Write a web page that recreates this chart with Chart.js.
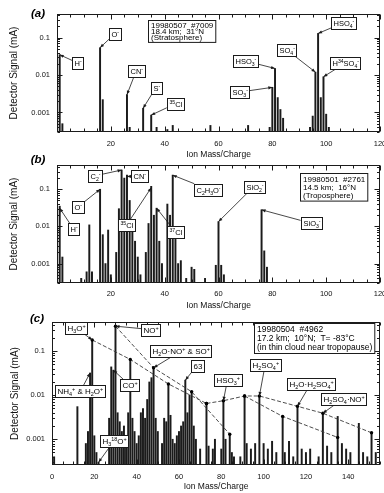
<!DOCTYPE html>
<html>
<head>
<meta charset="utf-8">
<script src="https://cdn.jsdelivr.net/npm/chart.js@4.4.1/dist/chart.umd.min.js"></script>
<style>
  body { margin: 0; background: #fff; }
  #wrap { position: relative; width: 384px; height: 493px; }
  #wrap canvas { position: absolute; left: 0; top: 0; }
</style>
</head>
<body>
<div id="wrap">
  <canvas id="chartA" width="384" height="493"></canvas>
  <canvas id="chartB" width="384" height="493"></canvas>
  <canvas id="chartC" width="384" height="493"></canvas>
</div>
<script>
// ---- data (mass/charge, detector signal in mA) ----

// (a) 19980507 #7009, stratosphere
const massA = [1, 2, 16, 17, 26, 27, 32, 35, 37, 41,
               43, 57, 71, 79, 80, 81, 82, 83, 84, 94,
               95, 96, 97, 98, 99, 100, 101];
const signalA = [0.035, 0.0005, 0.054, 0.0022, 0.003, 0.0004, 0.0013, 0.00085, 0.0004, 0.00035,
                 0.00045, 0.00045, 0.00045, 0.0004, 0.0047, 0.015, 0.0025, 0.0012, 0.0007, 0.0004,
                 0.0008, 0.012, 0.13, 0.0025, 0.009, 0.0009, 0.0004];

// (b) 19980501 #2761, troposphere
const massB = [1, 2, 9, 11, 12, 13, 16, 17, 18, 19,
               20, 22, 23, 24, 25, 26, 27, 28, 29, 30,
               31, 33, 34, 35, 36, 37, 38, 39, 41, 42,
               43, 44, 45, 46, 48, 50, 51, 55, 59, 60,
               61, 62, 76, 77, 78];
const signalB = [0.035, 0.0015, 0.0004, 0.0006, 0.011, 0.0006, 0.1, 0.006, 0.001, 0.008,
                 0.0005, 0.002, 0.03, 0.33, 0.2, 0.24, 0.05, 0.015, 0.004, 0.0015,
                 0.0005, 0.002, 0.012, 0.12, 0.02, 0.031, 0.004, 0.001, 0.04, 0.02,
                 0.24, 0.005, 0.001, 0.0012, 0.0004, 0.0008, 0.0007, 0.0004, 0.0009, 0.0135,
                 0.0009, 0.0005, 0.028, 0.0022, 0.0008];

// (c) 19980504 #4962, thin cloud near tropopause
const massC = [1, 12, 16, 17, 18, 19, 20, 21, 22, 27,
               28, 29, 30, 31, 32, 33, 34, 35, 36, 37,
               38, 39, 40, 41, 42, 43, 44, 45, 46, 47,
               48, 49, 50, 52, 53, 54, 55, 56, 57, 58,
               59, 60, 61, 62, 63, 64, 65, 66, 67, 68,
               70, 73, 74, 76, 77, 80, 81, 82, 84, 85,
               86, 89, 91, 92, 94, 96, 98, 100, 102, 104,
               106, 109, 110, 112, 114, 116, 118, 120, 122, 126,
               128, 130, 132, 135, 137, 139, 141, 145, 147, 149,
               151, 153];
const signalC = [0.0004, 0.0055, 0.0008, 0.0015, 0.032, 0.18, 0.0012, 0.0005, 0.0003, 0.003,
                 0.044, 0.037, 0.37, 0.004, 0.0025, 0.0015, 0.002, 0.0012, 0.004, 0.065,
                 0.003, 0.0015, 0.0008, 0.0012, 0.004, 0.005, 0.003, 0.008, 0.02, 0.025,
                 0.042, 0.003, 0.0015, 0.0008, 0.003, 0.0025, 0.018, 0.0035, 0.001, 0.0008,
                 0.0012, 0.0015, 0.002, 0.0025, 0.022, 0.004, 0.01, 0.012, 0.002, 0.001,
                 0.0006, 0.0065, 0.0007, 0.0006, 0.001, 0.0006, 0.0075, 0.001, 0.0013, 0.0005,
                 0.0004, 0.0004, 0.0096, 0.0008, 0.0006, 0.0008, 0.0096, 0.0008, 0.0006, 0.0009,
                 0.0005, 0.0033, 0.0005, 0.0009, 0.0004, 0.0056, 0.0006, 0.0005, 0.0006, 0.0004,
                 0.0039, 0.0007, 0.0005, 0.0033, 0.0008, 0.0006, 0.0005, 0.0023, 0.0005, 0.0004,
                 0.0014, 0.0005];

// cluster series joined by dashed lines in (c)
const h3oMass = [19, 37, 55, 73];
const h3oSignal = [0.18, 0.065, 0.018, 0.0065];
const noMass = [30, 48, 66, 84];
const noSignal = [0.37, 0.042, 0.012, 0.0013];
const upperMass = [73, 81, 91, 98, 116, 128, 151];
const upperSignal = [0.0065, 0.0075, 0.0096, 0.0096, 0.0056, 0.0039, 0.0014];
const lowerMass = [91, 109, 135];
const lowerSignal = [0.0096, 0.0033, 0.0011];

// tick labels
const ticksAB = [20, 40, 60, 80, 100, 120];
const ticksC = [0, 20, 40, 60, 80, 100, 120, 140];
const decades = [0.001, 0.01, 0.1];

// ---- labels: text, box centre (mass, signal), arrow tip (mass, signal) ----
const notesA = [
  { t: 'H^-', bx: 7.7, by: 0.021, tx: 1, ty: 0.035 },
  { t: 'O^-', bx: 21.6, by: 0.13, tx: 16, ty: 0.054 },
  { t: 'CN^-', bx: 29.4, by: 0.0128, tx: 26, ty: 0.003 },
  { t: 'S^-', bx: 36.8, by: 0.0047, tx: 32, ty: 0.0013 },
  { t: '^{35}Cl', bx: 43.9, by: 0.0017, tx: 35, ty: 0.00085 },
  { t: 'SO_3^-', bx: 67.8, by: 0.0035, tx: 80, ty: 0.0047 },
  { t: 'HSO_3^-', bx: 69.9, by: 0.024, tx: 81, ty: 0.015 },
  { t: 'SO_4^-', bx: 85.4, by: 0.047, tx: 96, ty: 0.012 },
  { t: 'HSO_4^-', bx: 106.4, by: 0.25, tx: 97, ty: 0.13 },
  { t: 'H^{34}SO_4^-', bx: 107.1, by: 0.021, tx: 99, ty: 0.009 }
];
const notesB = [
  { t: 'H^-', bx: 6.1, by: 0.0086, tx: 1, ty: 0.031 },
  { t: 'O^-', bx: 7.9, by: 0.034, tx: 16, ty: 0.1 },
  { t: 'C_2^-', bx: 14.1, by: 0.23, tx: 24, ty: 0.33 },
  { t: 'CN^-', bx: 30.6, by: 0.23, tx: 26, ty: 0.22 },
  { t: '^{35}Cl', bx: 25.9, by: 0.011, tx: 35, ty: 0.11 },
  { t: '^{37}Cl', bx: 43.9, by: 0.0073, tx: 37, ty: 0.031 },
  { t: 'C_2H_3O^-', bx: 56.2, by: 0.1, tx: 43, ty: 0.24 },
  { t: 'SiO_2^-', bx: 73.2, by: 0.12, tx: 60, ty: 0.0135 },
  { t: 'SiO_3^-', bx: 94.4, by: 0.0122, tx: 76, ty: 0.028 }
];
const notesC = [
  { t: 'H_3O^+', bx: 11.3, by: 0.34, tx: 19, ty: 0.18 },
  { t: 'NO^+', bx: 46.7, by: 0.31, tx: 30, ty: 0.37 },
  { t: 'NH_4^+ & H_2O^+', bx: 13.4, by: 0.0123, tx: 18, ty: 0.032 },
  { t: 'CO^+', bx: 36.7, by: 0.017, tx: 29, ty: 0.037 },
  { t: 'H_2O·NO^+ & SO^+', bx: 60.9, by: 0.1, tx: 48, ty: 0.042 },
  { t: '63', bx: 68.5, by: 0.047, tx: 63, ty: 0.022 },
  { t: 'HSO_3^+', bx: 82.9, by: 0.022, tx: 81, ty: 0.0075 },
  { t: 'H_3^{18}O^+', bx: 29.4, by: 0.00093, tx: 22, ty: 0.0003 },
  { t: 'H_2SO_4^+', bx: 100.7, by: 0.048, tx: 98, ty: 0.0096 },
  { t: 'H_2O·H_2SO_4^+', bx: 122.3, by: 0.0184, tx: 116, ty: 0.0056 },
  { t: 'H_2SO_4·NO^+', bx: 137.7, by: 0.0084, tx: 128, ty: 0.0039 }
];

const FONT = "'Liberation Sans', Arial, Helvetica, sans-serif";
const INK = '#1b1b1b';

function fontStr(size, style) {
  return (style || '') + ' ' + size + 'px ' + FONT;
}

// split "H_2SO_4^+" into plain / sub / sup runs
function parseRich(s) {
  const out = [];
  let i = 0;
  while (i < s.length) {
    const c = s[i];
    if ((c === '^' || c === '_') && i + 1 < s.length) {
      const mode = c === '^' ? 'sup' : 'sub';
      i++;
      let t;
      if (s[i] === '{') {
        const j = s.indexOf('}', i);
        t = s.slice(i + 1, j);
        i = j + 1;
      } else {
        t = s[i];
        i++;
      }
      out.push({ t, mode });
    } else {
      let j = i;
      while (j < s.length && s[j] !== '^' && s[j] !== '_') j++;
      out.push({ t: s.slice(i, j), mode: 'n' });
      i = j;
    }
  }
  return out;
}

function richWidth(ctx, segs, fs) {
  let w = 0;
  segs.forEach(s => {
    ctx.font = fontStr(s.mode === 'n' ? fs : fs * 0.68);
    w += ctx.measureText(s.t).width;
  });
  return w;
}

function drawRich(ctx, segs, x, cy, fs) {
  const base = cy + fs * 0.36;
  ctx.textAlign = 'left';
  ctx.textBaseline = 'alphabetic';
  segs.forEach(s => {
    let y = base;
    if (s.mode === 'n') {
      ctx.font = fontStr(fs);
    } else {
      ctx.font = fontStr(fs * 0.68);
      y = s.mode === 'sup' ? base - fs * 0.4 : base + fs * 0.22;
    }
    ctx.fillText(s.t, x, y);
    x += ctx.measureText(s.t).width;
  });
}

// box frame plus inward ticks on all four sides
const framePlugin = {
  id: 'frame',
  afterDatasetsDraw(chart) {
    const { ctx, chartArea: a, scales: { x, y } } = chart;
    const L = Math.round(a.left) + 0.5, R = Math.round(a.right) - 0.5;
    const T = Math.round(a.top) + 0.5, B = Math.round(a.bottom) - 0.5;
    ctx.save();
    ctx.strokeStyle = INK;
    ctx.lineWidth = 1;
    ctx.strokeRect(L, T, R - L, B - T);
    ctx.beginPath();
    for (let v = Math.ceil(x.min / 5) * 5; v <= x.max; v += 5) {
      const px = Math.round(x.getPixelForValue(v)) + 0.5;
      const len = v % 20 === 0 ? 5 : 3;
      ctx.moveTo(px, B); ctx.lineTo(px, B - len);
      ctx.moveTo(px, T); ctx.lineTo(px, T + len);
    }
    const d0 = Math.floor(Math.log10(y.min)), d1 = Math.ceil(Math.log10(y.max));
    for (let d = d0; d <= d1; d++) {
      for (let k = 1; k <= 9; k++) {
        const v = k * Math.pow(10, d);
        if (v < y.min || v > y.max) continue;
        const py = Math.round(y.getPixelForValue(v)) + 0.5;
        const len = k === 1 ? 5 : 2.5;
        ctx.moveTo(L, py); ctx.lineTo(L + len, py);
        ctx.moveTo(R, py); ctx.lineTo(R - len, py);
      }
    }
    ctx.stroke();
    ctx.restore();
  }
};

// labelled boxes with arrows, info box and panel tag
function makeNotes(p) {
  return {
    id: 'notes',
    afterDraw(chart) {
      const { ctx, scales: { x, y } } = chart;
      ctx.save();
      const fs = p.noteSize;
      p.notes.forEach(n => {
        const segs = parseRich(n.t);
        const w = richWidth(ctx, segs, fs) + 4;
        const h = fs + 4;
        const cx = x.getPixelForValue(n.bx), cy = y.getPixelForValue(n.by);
        const px = x.getPixelForValue(n.tx), py = y.getPixelForValue(n.ty);
        const dx = px - cx, dy = py - cy;
        const t = Math.min(dx ? (w / 2) / Math.abs(dx) : Infinity, dy ? (h / 2) / Math.abs(dy) : Infinity);
        const sx = cx + dx * t, sy = cy + dy * t;
        const ang = Math.atan2(py - sy, px - sx);
        ctx.strokeStyle = INK;
        ctx.fillStyle = INK;
        ctx.lineWidth = 0.8;
        ctx.beginPath();
        ctx.moveTo(sx, sy);
        ctx.lineTo(px, py);
        ctx.stroke();
        ctx.beginPath();
        ctx.moveTo(px, py);
        ctx.lineTo(px - 4 * Math.cos(ang) - 1.6 * Math.sin(ang), py - 4 * Math.sin(ang) + 1.6 * Math.cos(ang));
        ctx.lineTo(px - 4 * Math.cos(ang) + 1.6 * Math.sin(ang), py - 4 * Math.sin(ang) - 1.6 * Math.cos(ang));
        ctx.closePath();
        ctx.fill();
        const bx = Math.round(cx - w / 2) + 0.5, by = Math.round(cy - h / 2) + 0.5;
        ctx.fillStyle = '#fff';
        ctx.fillRect(bx, by, Math.round(w), Math.round(h));
        ctx.lineWidth = 1;
        ctx.strokeRect(bx, by, Math.round(w), Math.round(h));
        ctx.fillStyle = '#000';
        drawRich(ctx, segs, bx + 2, by + h / 2, fs);
      });

      // flight / location box
      const info = p.info;
      ctx.font = fontStr(info.size);
      const iw = Math.max(...info.lines.map(s => ctx.measureText(s).width)) + 5;
      const ih = info.lines.length * info.pitch + 3;
      const ix = Math.round(x.getPixelForValue(info.mass)) + 0.5;
      const iy = Math.round(y.getPixelForValue(info.signal)) + 0.5;
      ctx.fillStyle = '#fff';
      ctx.fillRect(ix, iy, iw, ih);
      ctx.strokeStyle = INK;
      ctx.lineWidth = 1;
      ctx.strokeRect(ix, iy, iw, ih);
      ctx.fillStyle = '#000';
      ctx.textAlign = 'left';
      ctx.textBaseline = 'middle';
      info.lines.forEach((s, i) => ctx.fillText(s, ix + 2.5, iy + 2 + info.pitch * (i + 0.5)));

      // panel tag
      ctx.font = fontStr(11.5, 'italic bold');
      ctx.textAlign = 'center';
      ctx.textBaseline = 'middle';
      ctx.fillText(p.tag, p.tagX, p.tagY);
      ctx.restore();
    }
  };
}

function buildPanel(p) {
  const datasets = [{
    type: 'bar',
    data: p.mass.map((m, i) => ({ x: m, y: p.signal[i] })),
    backgroundColor: INK,
    barThickness: 1.3,
    base: p.yMin,
    grouped: false,
    order: 2
  }];
  p.lines.forEach(l => {
    datasets.push({
      type: 'line',
      data: l.mass.map((m, i) => ({ x: m, y: l.signal[i] })),
      borderColor: '#3a3a3a',
      borderWidth: 0.9,
      borderDash: [4, 2],
      pointRadius: 1.7,
      pointBackgroundColor: '#000',
      pointBorderWidth: 0,
      tension: 0,
      order: 1
    });
  });

  const titleSize = 8.5;
  const axisBottom = p.titleY + titleSize * 0.6;

  return new Chart(document.getElementById(p.id), {
    type: 'bar',
    data: { datasets },
    options: {
      responsive: false,
      animation: false,
      events: [],
      layout: { padding: { top: p.area.top, left: 0, right: 384 - p.area.right, bottom: 493 - axisBottom } },
      plugins: { legend: { display: false }, tooltip: { enabled: false } },
      scales: {
        x: {
          type: 'linear',
          min: p.xMin,
          max: p.xMax,
          offset: false,
          grid: { display: false, drawTicks: false, offset: false },
          border: { display: false },
          afterBuildTicks: s => { s.ticks = p.xTicks.map(v => ({ value: v })); },
          afterFit: s => { s.height = axisBottom - p.area.bottom; s.paddingLeft = 0; s.paddingRight = 0; },
          ticks: {
            autoSkip: false, maxRotation: 0, padding: p.xLabelPad, color: '#111',
            font: { family: FONT, size: 7.5 },
            callback: v => String(v)
          },
          title: {
            display: true, text: 'Ion Mass/Charge', color: '#111',
            font: { family: FONT, size: titleSize }, padding: { top: 0, bottom: 0 }
          }
        },
        y: {
          type: 'logarithmic',
          min: p.yMin,
          max: p.yMax,
          beginAtZero: false,
          grid: { display: false, drawTicks: false },
          border: { display: false },
          afterBuildTicks: s => { s.ticks = decades.map(v => ({ value: v })); },
          afterFit: s => { s.width = p.area.left; s.paddingTop = 0; s.paddingBottom = 0; },
          ticks: {
            autoSkip: false, padding: 7, color: '#111',
            font: { family: FONT, size: 7.5 },
            callback: v => String(v)
          },
          title: {
            display: true, text: 'Detector Signal (mA)', color: '#111',
            font: { family: FONT, size: 10 }, padding: { top: p.yTitleX - 6, bottom: 0 }
          }
        }
      }
    },
    plugins: [framePlugin, makeNotes(p)]
  });
}

buildPanel({
  id: 'chartA', mass: massA, signal: signalA, lines: [],
  xMin: 0, xMax: 120, xTicks: ticksAB, yMin: 0.0003, yMax: 0.43,
  area: { top: 14, bottom: 132, left: 57, right: 380 },
  xLabelPad: 7.5, titleY: 155, yTitleX: 14,
  tag: '(a)', tagX: 38, tagY: 14, noteSize: 7.5, notes: notesA,
  info: { lines: ['19980507  #7009', '18.4 km;  31°N', '(Stratosphere)'], mass: 33.9, signal: 0.29, size: 8, pitch: 6.3 }
});

buildPanel({
  id: 'chartB', mass: massB, signal: signalB, lines: [],
  xMin: 0, xMax: 120, xTicks: ticksAB, yMin: 0.0003, yMax: 0.45,
  area: { top: 165, bottom: 283, left: 57, right: 380 },
  xLabelPad: 6, titleY: 305.7, yTitleX: 14,
  tag: '(b)', tagX: 38, tagY: 160, noteSize: 7.5, notes: notesB,
  info: { lines: ['19980501  #2761', '14.5 km;  16°N', '(Troposphere)'], mass: 90.3, signal: 0.27, size: 8, pitch: 8.2 }
});

buildPanel({
  id: 'chartC', mass: massC, signal: signalC,
  lines: [
    { mass: h3oMass, signal: h3oSignal },
    { mass: noMass, signal: noSignal },
    { mass: upperMass, signal: upperSignal },
    { mass: lowerMass, signal: lowerSignal }
  ],
  xMin: 0, xMax: 155, xTicks: ticksC, yMin: 0.00026, yMax: 0.46,
  area: { top: 322, bottom: 465, left: 52, right: 380 },
  xLabelPad: 7.2, titleY: 487, yTitleX: 15,
  tag: '(c)', tagX: 37, tagY: 319, noteSize: 8, notes: notesC,
  info: { lines: ['19980504  #4962', '17.2 km;  10°N;  T= -83°C', '(in thin cloud near tropopause)'], mass: 95.5, signal: 0.43, size: 8.5, pitch: 9 }
});
</script>
</body>
</html>
